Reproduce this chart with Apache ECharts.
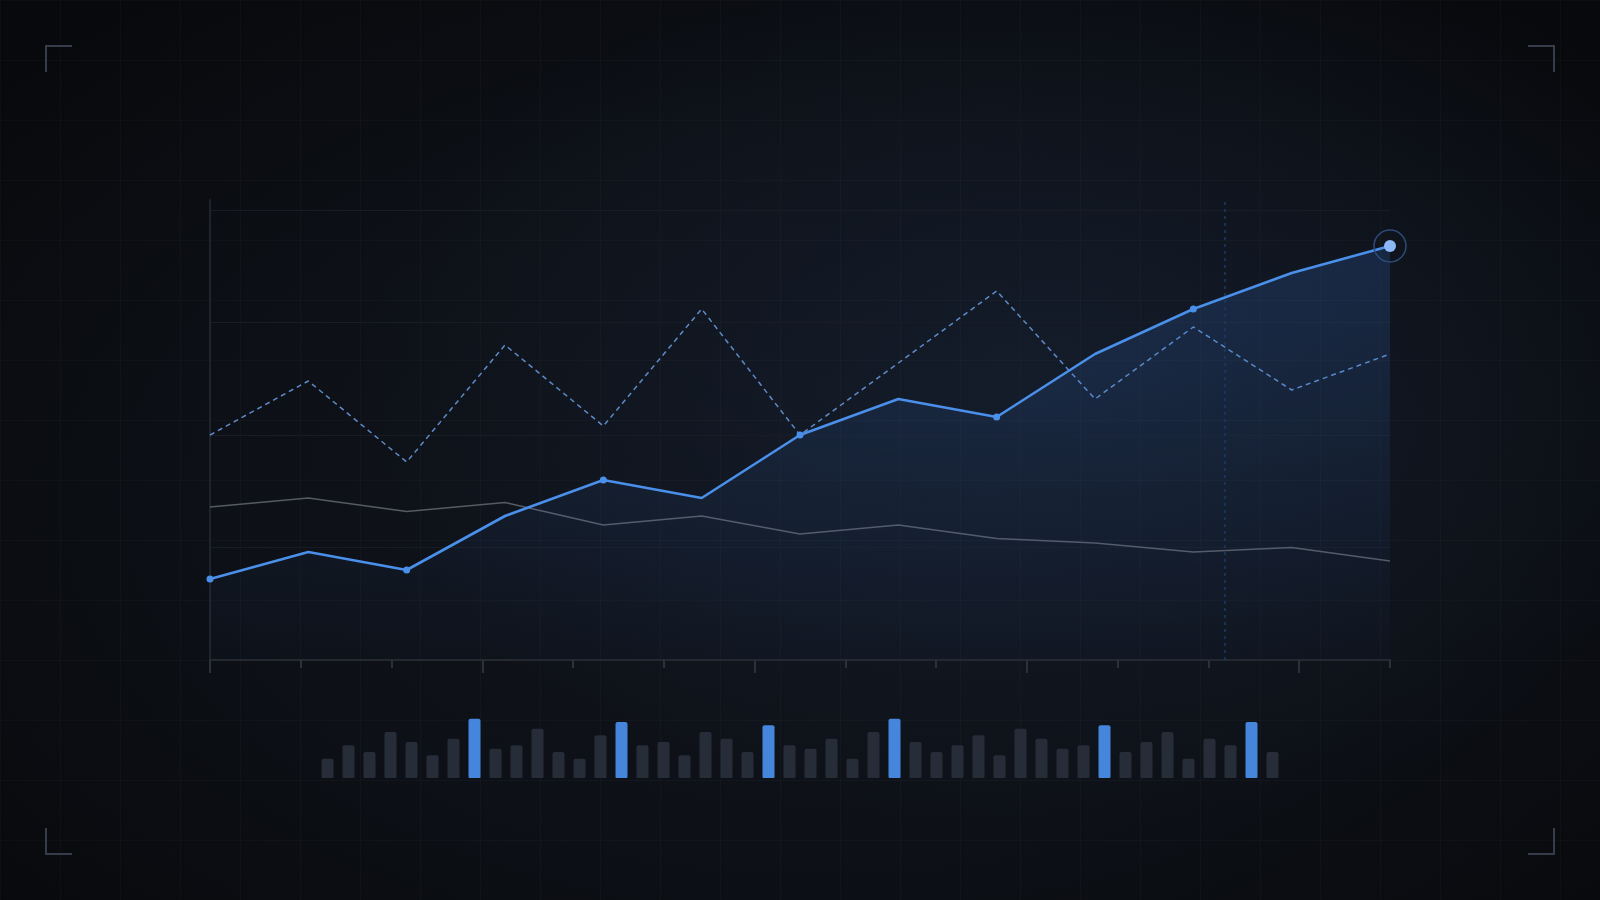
<!DOCTYPE html>
<html>
<head>
<meta charset="utf-8">
<script src="https://cdn.jsdelivr.net/npm/echarts@6/dist/echarts.min.js"></script>
<style>
  html, body { margin: 0; padding: 0; width: 1600px; height: 900px; overflow: hidden; }
  body {
    background-color: #0a0c10;
    background-image:
      linear-gradient(to right, rgba(255,255,255,0.018) 1px, transparent 1px),
      linear-gradient(to bottom, rgba(255,255,255,0.018) 1px, transparent 1px),
      radial-gradient(ellipse 700px 450px at 1050px 380px, rgba(24,36,56,0.55) 0%, rgba(24,36,56,0) 100%),
      radial-gradient(ellipse 1100px 650px at 820px 500px, #10141c 0%, #0d1016 55%, #08090c 100%);
    background-size: 60px 60px, 60px 60px, 100% 100%, 100% 100%;
  }
  #chart { width: 1600px; height: 900px; }
</style>
</head>
<body>
<div id="chart"></div>
<script>
// ---- data ----
const steps = [0, 1, 2, 3, 4, 5, 6, 7, 8, 9, 10, 11, 12];
const mainValues = [18, 24, 20, 32, 40, 36, 50, 58, 54, 68, 78, 86, 92];
const targetValues = [50, 62, 44, 70, 52, 78, 50, 66, 82, 58, 74, 60, 68];
const baselineValues = [34, 36, 33, 35, 30, 32, 28, 30, 27, 26, 24, 25, 22];
const markedSteps = [0, 2, 4, 6, 8, 10];
const cursorStep = 10.32;
const majorTicks = [0, 3, 6, 9, 12];
const minorTicks = [1, 2, 4, 5, 7, 8, 10, 11, 13];
const volumeValues = [
  29, 49, 39, 69, 54, 34, 59, 89, 44, 49, 74, 39, 29, 64, 84, 49, 54, 34, 69, 59, 39, 79, 49,
  44, 59, 29, 69, 89, 54, 39, 49, 64, 34, 74, 59, 44, 49, 79, 39, 54, 69, 29, 59, 49, 84, 39
];
const highlightBars = [7, 14, 21, 27, 37, 44];
const volumeSlots = volumeValues.map((_, i) => 'b' + i);

// ---- chart ----
const chart = echarts.init(document.getElementById('chart'), null, { renderer: 'canvas' });

const pairs = (vals) => steps.map((s, i) => [s, vals[i]]);
const lastIdx = steps.length - 1;

const tickAxisBase = {
  type: 'value', gridIndex: 0, min: 0, max: 13, position: 'bottom',
  axisLabel: { show: false }, splitLine: { show: false }
};

chart.setOption({
  backgroundColor: 'transparent',
  animation: false,
  grid: [
    { left: 210, top: 200, width: 1180, height: 460 },
    { left: 317, top: 718, width: 966, height: 60 }
  ],
  xAxis: [
    { type: 'value', gridIndex: 0, min: 0, max: 12, show: false },
    Object.assign({}, tickAxisBase, {
      axisLine: { show: true, lineStyle: { color: '#23282f', width: 2 } },
      axisTick: { show: true, customValues: majorTicks, length: 13, lineStyle: { color: '#2b3039', width: 2 } }
    }),
    Object.assign({}, tickAxisBase, {
      axisLine: { show: false },
      axisTick: { show: true, customValues: minorTicks, length: 8, lineStyle: { color: '#2b3039', width: 2 } }
    }),
    { type: 'category', gridIndex: 1, data: volumeSlots, show: false }
  ],
  yAxis: [
    {
      type: 'value', gridIndex: 0, min: 0, max: 460 / 4.5, interval: 25,
      axisLine: { show: true, lineStyle: { color: '#1f242c', width: 2 } },
      axisTick: { show: false }, axisLabel: { show: false },
      splitLine: { show: true, lineStyle: { color: ['#181c24', '#181c24', '#181c24', '#181c24', '#181c24', 'rgba(0,0,0,0)'], width: 1.2 } }
    },
    { type: 'value', gridIndex: 1, min: 0, max: 90, show: false }
  ],
  series: [
    {
      name: 'baseline', type: 'line', xAxisIndex: 0, yAxisIndex: 0,
      data: pairs(baselineValues), symbol: 'none',
      lineStyle: { color: '#555a63', width: 1.5 }, z: 2
    },
    {
      name: 'target', type: 'line', xAxisIndex: 0, yAxisIndex: 0,
      data: pairs(targetValues), symbol: 'none',
      lineStyle: { color: '#5d8bc8', width: 1.5, type: [5, 4] }, z: 3
    },
    {
      name: 'main', type: 'line', xAxisIndex: 0, yAxisIndex: 0,
      data: pairs(mainValues),
      symbol: 'circle',
      symbolSize: (v, p) => (markedSteps.indexOf(p.dataIndex) >= 0 ? 7 : 0),
      showAllSymbol: true,
      itemStyle: { color: '#4a8fe9' },
      lineStyle: { color: '#4a8fe9', width: 2.6 },
      areaStyle: {
        color: new echarts.graphic.LinearGradient(0, 0, 0, 1, [
          { offset: 0, color: 'rgba(60,120,215,0.30)' },
          { offset: 0.6, color: 'rgba(60,120,215,0.12)' },
          { offset: 1, color: 'rgba(60,120,215,0.03)' }
        ])
      },
      markLine: {
        silent: true, symbol: 'none', label: { show: false },
        lineStyle: { color: '#1c3a68', width: 1.5, type: [3, 4] },
        data: [{ xAxis: cursorStep }]
      },
      z: 4
    },
    {
      name: 'endRing', type: 'scatter', xAxisIndex: 0, yAxisIndex: 0,
      data: [[steps[lastIdx], mainValues[lastIdx]]],
      symbolSize: 32, silent: true,
      itemStyle: { color: 'rgba(0,0,0,0)', borderColor: '#2c4c7a', borderWidth: 1.5, opacity: 1 },
      z: 5
    },
    {
      name: 'endDot', type: 'scatter', xAxisIndex: 0, yAxisIndex: 0,
      data: [[steps[lastIdx], mainValues[lastIdx]]],
      symbolSize: 12, silent: true,
      itemStyle: { color: '#8cb8f7', opacity: 1 },
      z: 6
    },
    {
      name: 'volume', type: 'bar', xAxisIndex: 3, yAxisIndex: 1,
      data: volumeValues, barWidth: 12,
      itemStyle: {
        borderRadius: [2, 2, 1, 1],
        color: (p) => (highlightBars.indexOf(p.dataIndex) >= 0 ? '#4585dc' : '#262d39')
      }
    }
  ],
  graphic: [
    { type: 'polyline', shape: { points: [[46, 72], [46, 46], [72, 46]] }, style: { stroke: '#363d4a', lineWidth: 2, fill: null } },
    { type: 'polyline', shape: { points: [[1528, 46], [1554, 46], [1554, 72]] }, style: { stroke: '#363d4a', lineWidth: 2, fill: null } },
    { type: 'polyline', shape: { points: [[46, 828], [46, 854], [72, 854]] }, style: { stroke: '#363d4a', lineWidth: 2, fill: null } },
    { type: 'polyline', shape: { points: [[1528, 854], [1554, 854], [1554, 828]] }, style: { stroke: '#363d4a', lineWidth: 2, fill: null } }
  ]
});
</script>
</body>
</html>
